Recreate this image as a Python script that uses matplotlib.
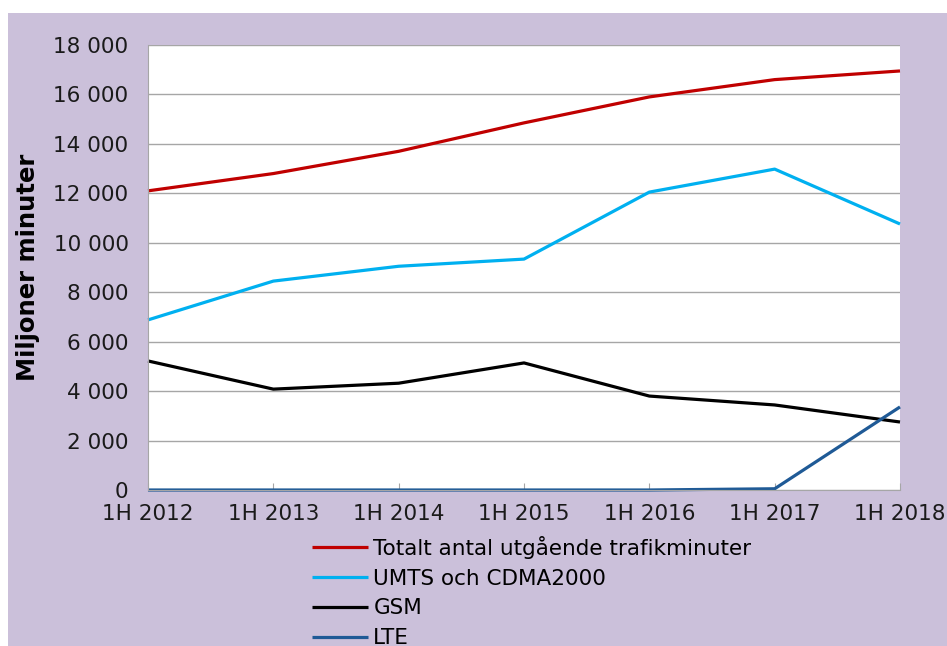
#!/usr/bin/env python3

import matplotlib
matplotlib.use('Agg')
import matplotlib.pyplot as plt
from matplotlib.patches import Rectangle
from matplotlib.ticker import FuncFormatter, MultipleLocator

PERIODS = ['1H 2012', '1H 2013', '1H 2014', '1H 2015', '1H 2016', '1H 2017', '1H 2018']
TOTAL = [12100, 12800, 13700, 14850, 15900, 16600, 16950]
UMTS = [6880, 8450, 9050, 9340, 12050, 12980, 10760]
GSM = [5220, 4080, 4320, 5140, 3800, 3440, 2750]
LTE = [0, 0, 0, 0, 0, 50, 3360]

SERIES = [
    ('Totalt antal utgående trafikminuter', TOTAL, '#C00000'),
    ('UMTS och CDMA2000', UMTS, '#00B0F0'),
    ('GSM', GSM, '#000000'),
    ('LTE', LTE, '#1F5A96'),
]

BG = '#CBC0DA'


def space_thousands(v, pos):
    return '{:,.0f}'.format(v).replace(',', ' ')


def main():
    fig = plt.figure(figsize=(9.47, 6.46), dpi=100, facecolor='white')
    fig.add_artist(Rectangle((8 / 947, 0), 1, 1 - 13 / 646, transform=fig.transFigure,
                             facecolor=BG, edgecolor='none', zorder=0))
    ax = fig.add_axes([148 / 947, 1 - 490 / 646, 752 / 947, 445 / 646])
    ax.set_facecolor('white')

    x = list(range(len(PERIODS)))
    for label, vals, color in SERIES:
        ax.plot(x, vals, color=color, lw=2.3, label=label, clip_on=False, solid_capstyle='butt')

    ax.set_xlim(0, len(PERIODS) - 1)
    ax.set_ylim(0, 18000)
    ax.yaxis.set_major_locator(MultipleLocator(2000))
    ax.yaxis.set_major_formatter(FuncFormatter(space_thousands))
    ax.set_xticks(x)
    ax.set_xticklabels(PERIODS)
    ax.grid(axis='y', color='#A6A6A6', lw=1)
    ax.set_axisbelow(True)
    for s in ('top', 'right'):
        ax.spines[s].set_visible(False)
    ax.spines['left'].set_color('#A6A6A6')
    ax.spines['bottom'].set_color('#A6A6A6')
    ax.tick_params(axis='y', length=0, pad=14, labelsize=15.5, labelcolor='#1a1a1a')
    ax.tick_params(axis='x', direction='in', length=5, color='#A6A6A6', pad=10,
                   labelsize=15.5, labelcolor='#1a1a1a')
    ax.set_ylabel('Miljoner minuter', fontsize=17.5, fontweight='bold', labelpad=10)

    fig.legend(loc='upper left', bbox_to_anchor=(312 / 947, 1 - 536 / 646),
               frameon=False, fontsize=15.5, handlelength=2.6, handletextpad=0.25,
               labelspacing=0.45, borderpad=0, borderaxespad=0)

    fig.savefig('out.png', facecolor=fig.get_facecolor())
    plt.close(fig)


if __name__ == "__main__":
    main()
